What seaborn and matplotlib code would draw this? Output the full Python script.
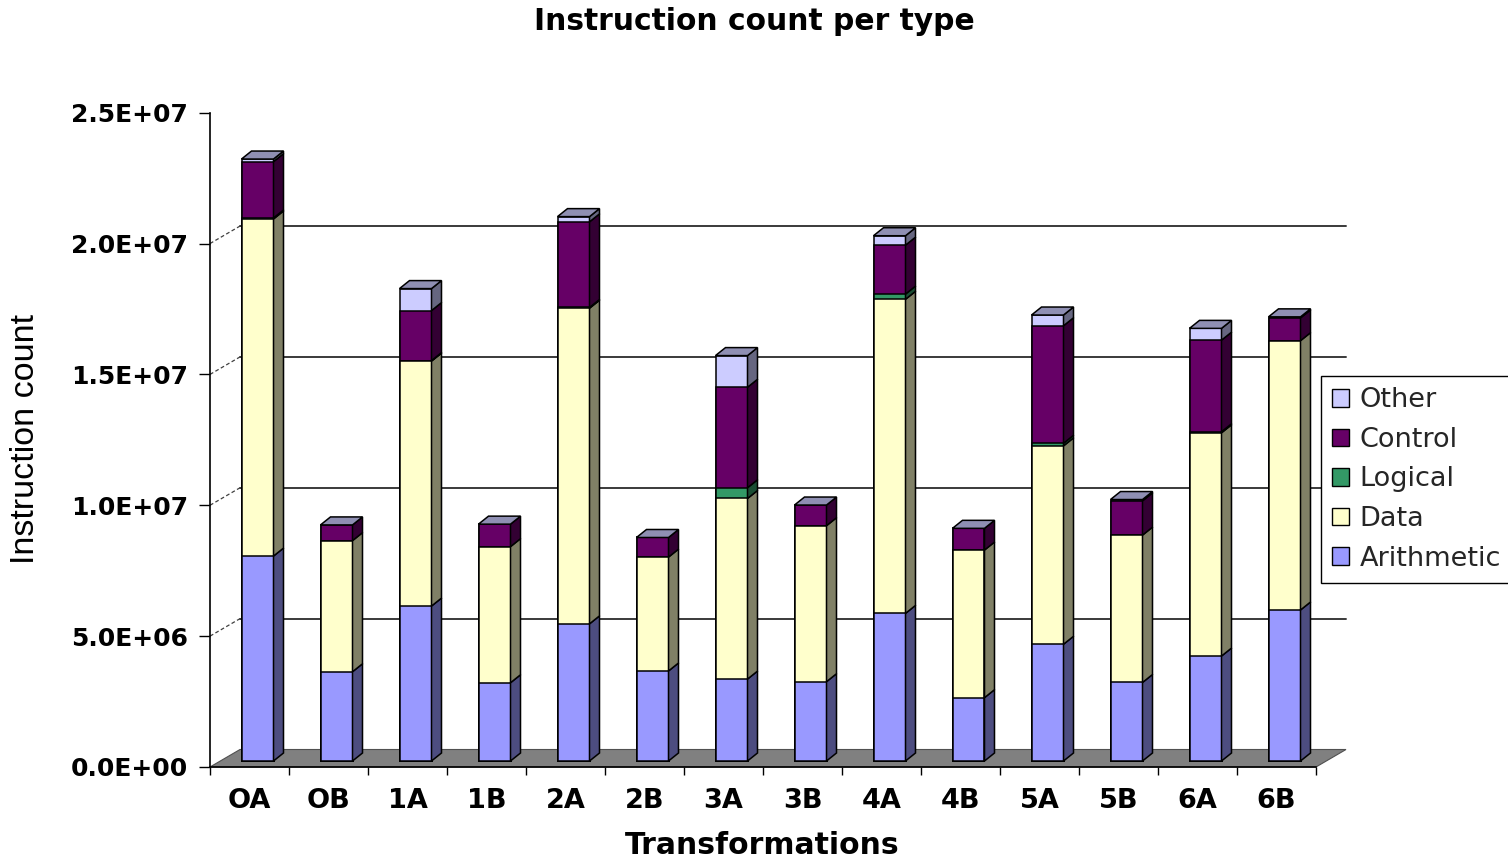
import numpy as np
import pandas as pd
import matplotlib
matplotlib.use("Agg")
import matplotlib.pyplot as plt
import matplotlib.transforms as mtransforms
from matplotlib.patches import Polygon, Patch
from matplotlib.colors import to_rgb
import seaborn as sns

# Instruction counts per transformation, split by instruction type
categories = ["OA", "OB", "1A", "1B", "2A", "2B", "3A", "3B",
              "4A", "4B", "5A", "5B", "6A", "6B"]
arithmetic = [7.83e6, 3.41e6, 5.92e6, 2.99e6, 5.24e6, 3.44e6, 3.13e6,
              3.03e6, 5.64e6, 2.42e6, 4.46e6, 3.00e6, 4.01e6, 5.77e6]
data = [12.88e6, 5.01e6, 9.36e6, 5.20e6, 12.06e6, 4.35e6, 6.90e6,
        5.96e6, 12.00e6, 5.64e6, 7.58e6, 5.63e6, 8.53e6, 10.29e6]
logical = [0.04e6, 0.0, 0.02e6, 0.0, 0.03e6, 0.0, 0.41e6,
           0.0, 0.20e6, 0.0, 0.10e6, 0.0, 0.04e6, 0.0]
control = [2.15e6, 0.60e6, 1.91e6, 0.86e6, 3.27e6, 0.75e6, 3.84e6,
           0.79e6, 1.87e6, 0.83e6, 4.49e6, 1.31e6, 3.50e6, 0.87e6]
other = [0.10e6, 0.0, 0.84e6, 0.0, 0.20e6, 0.0, 1.21e6,
         0.0, 0.36e6, 0.0, 0.41e6, 0.05e6, 0.45e6, 0.04e6]

series_names = ["Arithmetic", "Data", "Logical", "Control", "Other"]
series_colors = ["#9999FF", "#FFFFCC", "#339966", "#660066", "#CCCCFF"]
y_ticks = [0, 5e6, 1e7, 1.5e7, 2e7, 2.5e7]

sns.set_theme(style="white")
plt.rcParams["font.family"] = ["DejaVu Sans"]

W, H, DPI = 1508, 861, 100
fig = plt.figure(figsize=(W / DPI, H / DPI), dpi=DPI)
fig.patch.set_facecolor("white")
ax = fig.add_axes([210 / W, 1 - 767 / H, 1106 / W, (767 - 112.7) / H])
ax.set_facecolor("none")

df = pd.DataFrame({"Transformation": categories, "Arithmetic": arithmetic,
                   "Data": data, "Logical": logical, "Control": control,
                   "Other": other})
cum = df[series_names].cumsum(axis=1)

n = len(categories)
bar_w = 32 / 79
ax.set_xlim(-0.5, n - 0.5)
ax.set_ylim(0, 2.5e7)


def shade(color, f):
    r, g, b = to_rgb(color)
    return (r * f, g * f, b * f)


# front faces: cumulative totals drawn tallest first so each layer shows
bar_off = mtransforms.ScaledTranslation(8 / DPI, 6 / DPI, fig.dpi_scale_trans)
for name, color in reversed(list(zip(series_names, series_colors))):
    sns.barplot(x=df["Transformation"], y=cum[name], order=categories,
                color=color, saturation=1, width=bar_w, edgecolor="black",
                linewidth=1.1, errorbar=None, ax=ax, zorder=4)
for p in ax.patches:
    p.set_transform(ax.transData + bar_off)
    p.set_clip_on(False)

ax.set_xlim(-0.5, n - 0.5)
ax.set_ylim(0, 2.5e7)
ax.set_xlabel("")
ax.set_ylabel("")

# pixel scale of the data axes, for the oblique depth of the 3-D look
p0 = ax.transData.transform((0, 0))
p1 = ax.transData.transform((1, 1e6))
sx = p1[0] - p0[0]
sy = (p1[1] - p0[1]) / 1e6
ddx, ddy = 10 / sx, 8 / sy          # bar depth
bx, by = 30 / sx, 17.5 / sy         # back wall depth

# side and top faces of each bar
for i in range(n):
    xl, xr = i - bar_w / 2, i + bar_w / 2
    bottom = 0.0
    for name, color in zip(series_names, series_colors):
        val = df.loc[i, name]
        if val > 0:
            y0, y1 = bottom, bottom + val
            side = Polygon([(xr, y0), (xr + ddx, y0 + ddy),
                            (xr + ddx, y1 + ddy), (xr, y1)], closed=True,
                           facecolor=shade(color, 0.5), edgecolor="black",
                           linewidth=1.1, zorder=4,
                           transform=ax.transData + bar_off, clip_on=False)
            ax.add_patch(side)
        bottom += val
    top = Polygon([(xl, bottom), (xr, bottom), (xr + ddx, bottom + ddy),
                   (xl + ddx, bottom + ddy)], closed=True,
                  facecolor=shade(series_colors[-1], 0.7), edgecolor="black",
                  linewidth=1.1, zorder=4,
                  transform=ax.transData + bar_off, clip_on=False)
    ax.add_patch(top)

# floor
floor = Polygon([(-0.5, 0), (n - 0.5, 0), (n - 0.5 + bx, by), (-0.5 + bx, by)],
                closed=True, facecolor="#808080", edgecolor="#505050",
                linewidth=0.8, zorder=1, clip_on=False)
ax.add_patch(floor)

# back-wall gridlines and their dashed links to the value axis
for v in y_ticks[1:-1]:
    ax.plot([-0.5 + bx, n - 0.5 + bx], [v + by, v + by], color="#3a3a3a",
            linewidth=1.4, zorder=1, clip_on=False)
    ax.plot([-0.5, -0.5 + bx], [v, v + by], color="#404040", linewidth=0.9,
            linestyle=(0, (3, 2)), zorder=1, clip_on=False)

# spines and ticks
for s in ["top", "right"]:
    ax.spines[s].set_visible(False)
for s in ["left", "bottom"]:
    ax.spines[s].set_color("black")
    ax.spines[s].set_linewidth(1.2)
    ax.spines[s].set_zorder(5)

ax.set_yticks(y_ticks)
ax.set_yticklabels([f"{v:.1E}" for v in y_ticks], fontsize=18,
                   fontweight="bold")
ax.tick_params(axis="y", left=True, direction="out", length=8, width=1,
               color="black", pad=8, labelcolor="black")

ax.set_xticks(np.arange(-0.5, n, 1))
ax.set_xticklabels([])
ax.set_xticks(np.arange(n), minor=True)
ax.set_xticklabels(categories, minor=True, fontsize=19.5, fontweight="bold")
ax.tick_params(axis="x", which="major", bottom=True, direction="out",
               length=6, width=1, color="black")
ax.tick_params(axis="x", which="minor", bottom=True, length=0, pad=15,
               labelcolor="black")

# titles
fig.text(754 / W, 1 - 22 / H, "Instruction count per type", ha="center",
         va="center", fontsize=21.4, fontweight="bold", color="black")
fig.text(762 / W, 1 - 846 / H, "Transformations", ha="center", va="center",
         fontsize=21.5, fontweight="bold", color="black")
fig.text(25 / W, 1 - 439 / H, "Instruction count", ha="center", va="center",
         rotation=90, fontsize=24.5, family=["Liberation Sans", "DejaVu Sans"],
         color="black")

# legend, listed from the top of the stack down
handles = [Patch(facecolor=c, edgecolor="black", linewidth=1.0, label=nm)
           for nm, c in reversed(list(zip(series_names, series_colors)))]
leg = fig.legend(handles=handles, loc="upper left",
                 bbox_to_anchor=(1321 / W, 1 - 376 / H),
                 bbox_transform=fig.transFigure, frameon=True, fancybox=False,
                 edgecolor="black", framealpha=1, fontsize=19.5,
                 handlelength=0.62, handleheight=0.62, handletextpad=0.38,
                 labelspacing=0.5, borderpad=0.42, borderaxespad=0)
leg.get_frame().set_linewidth(1.0)

fig.savefig("out.png", dpi=DPI)
